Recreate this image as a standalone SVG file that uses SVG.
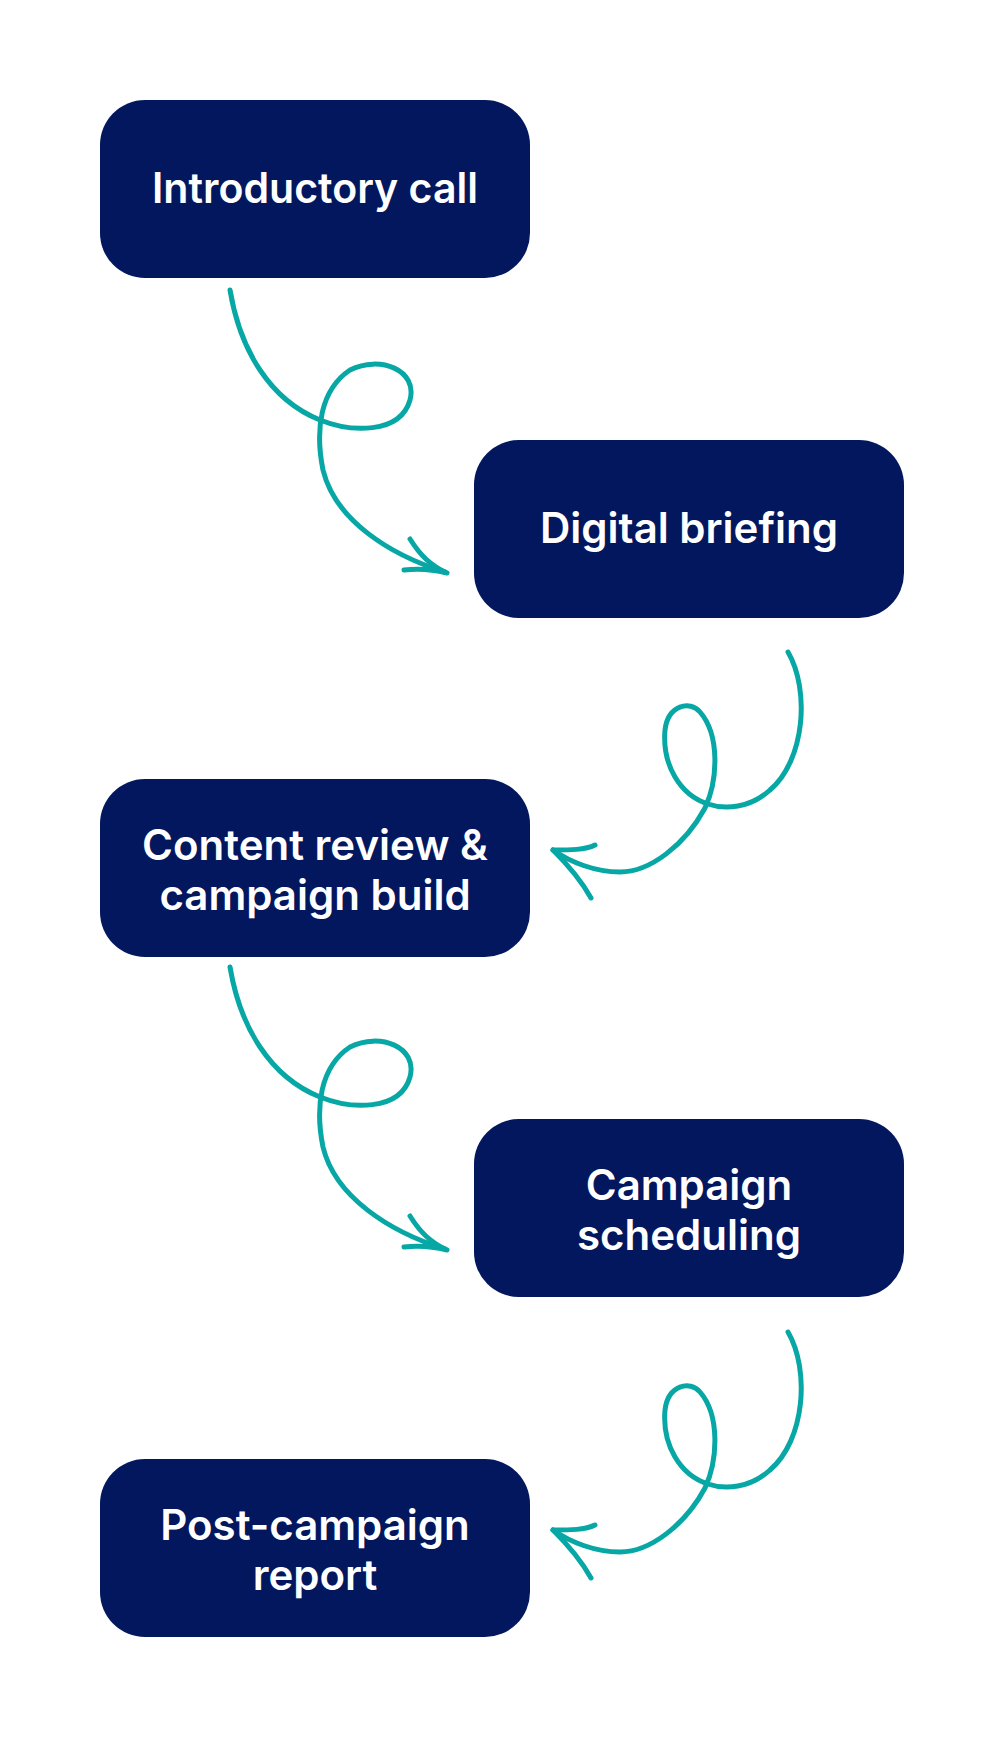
<svg xmlns="http://www.w3.org/2000/svg" width="1000" height="1750" viewBox="0 0 1000 1750">
<style>
.box{fill:#03175E}
.t{fill:#fff;font-family:Inter,"Noto Sans",sans-serif;font-weight:600;font-size:42px;text-anchor:middle}
.a{fill:none;stroke:#07A7A5;stroke-width:5;stroke-linecap:round;stroke-linejoin:round}
</style>
<defs>
<g id="curlR">
<path class="a" d="M230,290 C240,350 270,400 320,420 C350,432 400,435 410,400 C418,370 380,355 350,370 C320,390 315,430 323,470 C335,520 390,555 445,572"/>
<path class="a" d="M410,539 C420,555 430,565 447,573 M404,570 C420,568 435,570 447,573"/>
</g>
<g id="curlL">
<path class="a" d="M788,652 C810,690 805,760 770,790 C750,808 725,810 708,804 C680,795 662,765 665,730 C668,705 690,700 700,712 C720,735 718,780 705,808 C685,845 650,872 620,872 C595,872 570,862 553,850"/>
<path class="a" d="M595,845 C585,850 570,850 553,850 M591,898 C580,878 565,862 553,850"/>
</g>
</defs>
<g id="connectors">
<use href="#curlR"/>
<use href="#curlL"/>
<use href="#curlR" transform="translate(0,677)"/>
<use href="#curlL" transform="translate(0,680)"/>
</g>
<g id="n1"><rect class="box" x="100" y="100" width="430" height="178" rx="45"/><text class="t" x="315" y="203" textLength="326" lengthAdjust="spacingAndGlyphs">Introductory call</text></g>
<g id="n2"><rect class="box" x="474" y="440" width="430" height="178" rx="45"/><text class="t" x="689" y="543">Digital briefing</text></g>
<g id="n3"><rect class="box" x="100" y="779" width="430" height="178" rx="45"/><text class="t" x="315" y="860">Content review &amp;</text><text class="t" x="315" y="910">campaign build</text></g>
<g id="n4"><rect class="box" x="474" y="1119" width="430" height="178" rx="45"/><text class="t" x="689" y="1200">Campaign</text><text class="t" x="689" y="1250">scheduling</text></g>
<g id="n5"><rect class="box" x="100" y="1459" width="430" height="178" rx="45"/><text class="t" x="315" y="1540">Post-campaign</text><text class="t" x="315" y="1590">report</text></g>
</svg>
